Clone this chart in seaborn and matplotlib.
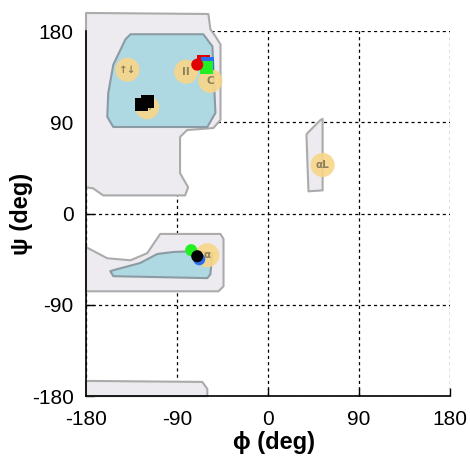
import matplotlib
matplotlib.use("Agg")
import matplotlib.pyplot as plt
import seaborn as sns
import pandas as pd

sns.set_theme(style="white")
plt.rcParams['font.family'] = ['Liberation Sans', 'DejaVu Sans']
plt.rcParams['text.color'] = 'black'
plt.rcParams['axes.labelcolor'] = 'black'
plt.rcParams['xtick.color'] = 'black'
plt.rcParams['ytick.color'] = 'black'

# allowed (gray) regions: phi, psi vertices
allowed_upper_phi = [-180, -59, -57, -52, -47, -47, -54, -80, -87, -87, -79, -82, -163, -173, -180]
allowed_upper_psi = [198, 197, 182, 175, 167, 92.5, 84.5, 82.5, 75.6, 40, 26, 18, 18, 25, 26]
allowed_lower_phi = [-180, -159, -136, -119.5, -106.6, -47, -44, -44, -49, -180]
allowed_lower_psi = [-33, -44, -46, -39, -20, -20, -25, -71.6, -76.6, -76.6]
allowed_aL_phi = [39, 52, 54, 54, 40, 38]
allowed_aL_psi = [79.5, 92.5, 93.5, 23, 22, 77.6]
allowed_bottom_phi = [-180, -65, -60, -60, -180]
allowed_bottom_psi = [-165, -166, -173, -180, -180]

# favored (blue) regions
favored_upper_phi = [-136, -64, -55, -52, -60, -153, -159, -158, -153, -141]
favored_upper_psi = [177, 177, 165, 99.4, 85.5, 85.5, 95.5, 119, 147, 172]
favored_lower_phi = [-156, -153, -60, -57, -55, -70, -93.7, -109.6, -126.5, -149]
favored_lower_psi = [-56.7, -61.7, -63.6, -59.7, -39.8, -36.8, -37.8, -39.8, -48.7, -54.7]

# secondary structure reference labels
ss_labels = ["↑↓", "II", "C", "↑↑", "α", "αL"]
ss_phi = [-139, -81, -57, -119.5, -60, 54]
ss_psi = [142, 140, 131, 105, -41, 48]

# data points
pt_phi = [-64, -70, -60, -61, -125.5, -119, -76, -68, -70]
pt_psi = [150, 147, 148, 144, 108, 110.4, -36, -45, -42]
pt_color = ["red", "red", "blue", "green", "black", "black", "green", "blue", "black"]
pt_shape = ["s", "o", "s", "s", "s", "s", "o", "o", "o"]

ticks = [-180, -90, 0, 90, 180]

fig = plt.figure(figsize=(4.70, 4.59), dpi=100)
ax = fig.add_axes([0.183, 0.137, 0.7745, 0.795])
ax.set_xlim(-180, 180)
ax.set_ylim(-180, 180)

gray_fill = "#EDEBEF"
gray_edge = "#ABABAB"
blue_fill = "#AED8E2"
blue_edge = "#8A9BA3"

for px, py in [(allowed_upper_phi, allowed_upper_psi), (allowed_lower_phi, allowed_lower_psi),
               (allowed_aL_phi, allowed_aL_psi), (allowed_bottom_phi, allowed_bottom_psi)]:
    ax.fill(px, py, facecolor=gray_fill, edgecolor=gray_edge, lw=1.5, clip_on=False, zorder=1,
            joinstyle="round")
for px, py in [(favored_upper_phi, favored_upper_psi), (favored_lower_phi, favored_lower_psi)]:
    ax.fill(px, py, facecolor=blue_fill, edgecolor=blue_edge, lw=1.5, clip_on=False, zorder=2,
            joinstyle="round")

ax.grid(True, color="black", linestyle=(0, (2.5, 2.5)), lw=0.9)
for gl in ax.get_xgridlines() + ax.get_ygridlines():
    gl.set_zorder(3)

# labels
ax.scatter(ss_phi, ss_psi, s=300, color="#F8D688", alpha=0.9, edgecolors="none", zorder=4)
for lab, x, y in zip(ss_labels, ss_phi, ss_psi):
    ax.text(x, y, lab, ha="center", va="center", fontsize=7.5, color="#8E7E5E",
            fontweight="bold", zorder=5, family=['DejaVu Sans'])

df = pd.DataFrame({"phi": pt_phi, "psi": pt_psi, "color": pt_color, "shape": pt_shape})
pal = {"red": "#E00000", "blue": "#2D6EF0", "green": "#22F022", "black": "black"}
for shp, size in [("s", 85), ("o", 75)]:
    sub = df[df["shape"] == shp]
    sns.scatterplot(data=sub, x="phi", y="psi", hue="color", palette=pal,
                    marker=shp, s=size, edgecolor="none", linewidth=0, legend=False, ax=ax, zorder=6)

ax.set_xticks(ticks)
ax.set_yticks(ticks)
ax.set_xticklabels([str(t) for t in ticks], fontsize=15)
ax.set_yticklabels([str(t) for t in ticks], fontsize=15)
ax.tick_params(axis="x", direction="in", length=6, width=1, pad=10, bottom=True)
ax.tick_params(axis="y", direction="in", length=6, width=1, pad=9, left=True)
ax.set_xlabel("ϕ (deg)", fontsize=17, fontweight="bold")
ax.set_ylabel("ψ (deg)", fontsize=17, fontweight="bold")
ax.xaxis.set_label_coords(0.516, -0.095)
ax.yaxis.set_label_coords(-0.146, 0.5)

for side in ["top", "right"]:
    ax.spines[side].set_visible(False)
for side in ["left", "bottom"]:
    ax.spines[side].set_color("black")
    ax.spines[side].set_linewidth(1.2)
    ax.spines[side].set_zorder(7)

fig.savefig("out.png", dpi=100)
